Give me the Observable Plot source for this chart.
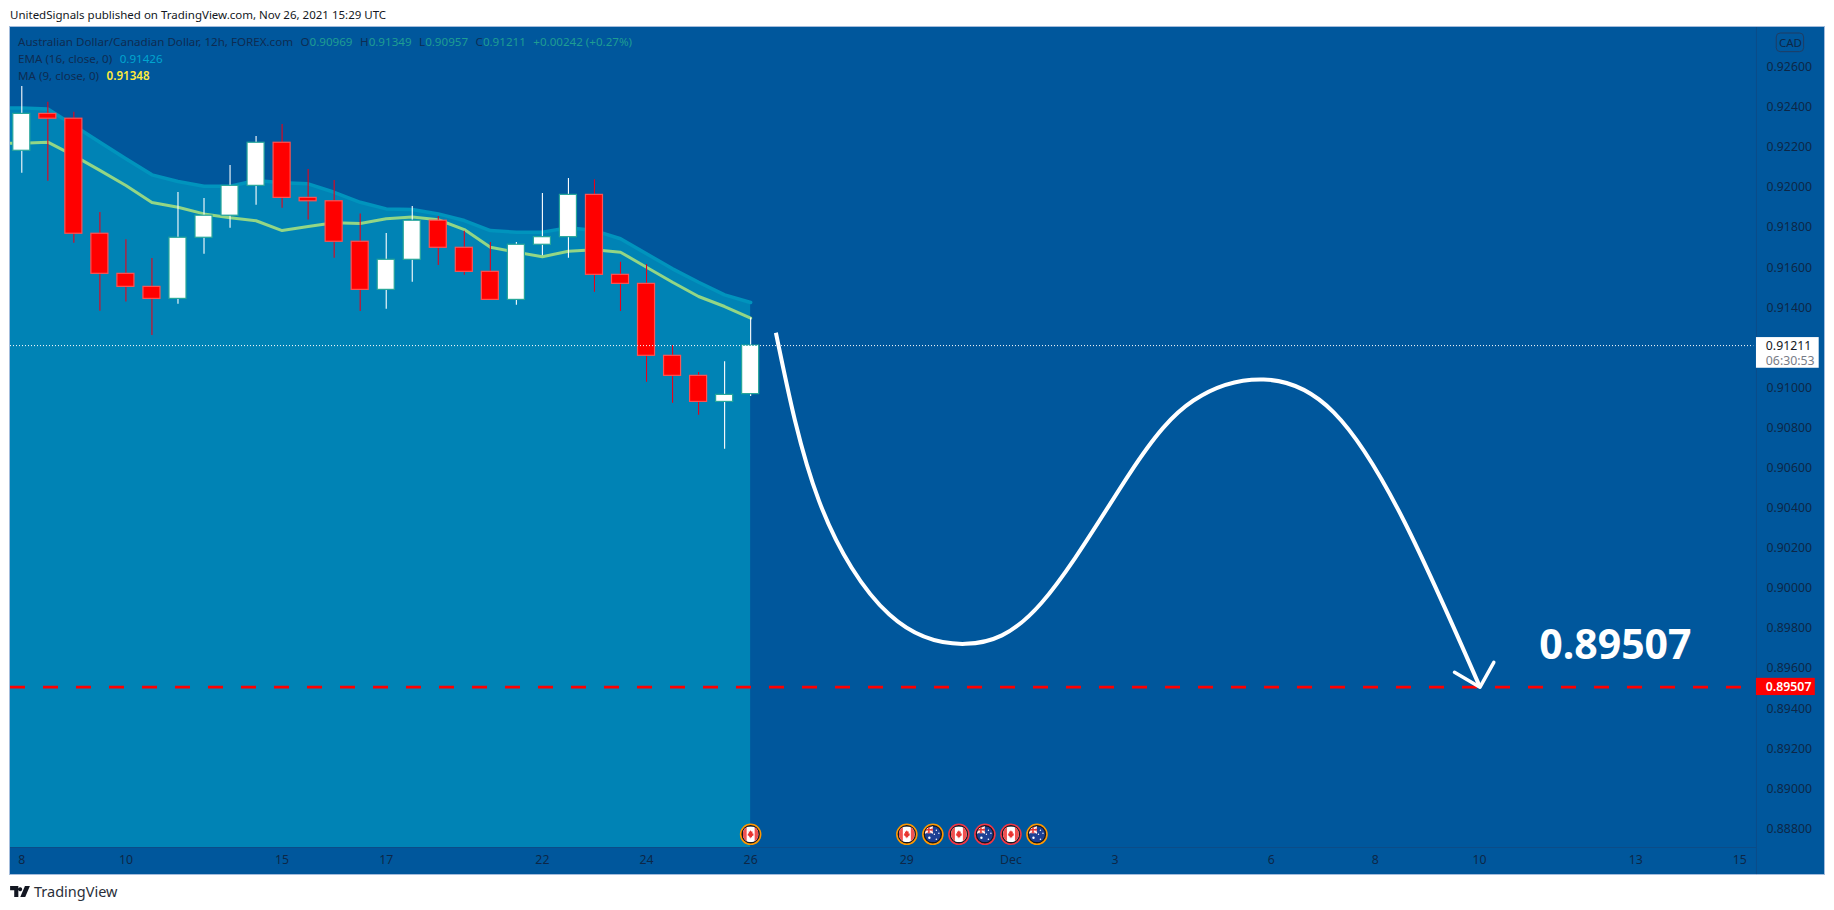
<!DOCTYPE html>
<html>
<head>
<meta charset="utf-8">
<script src="https://cdn.jsdelivr.net/npm/d3@7"></script>
<script src="https://cdn.jsdelivr.net/npm/@observablehq/plot@0.6"></script>
<style>
  html,body{margin:0;padding:0;background:#fff;width:1834px;height:910px;overflow:hidden}
  body{position:relative;font-family:"Noto Sans",sans-serif;color:#131722}
  #head{position:absolute;left:10px;top:6px;font-size:11.5px;line-height:18px;white-space:nowrap}
  #wrap{position:absolute;left:9px;top:26px;width:1814px;height:847px;border:1px solid #a3bcdc}
  #wrap svg{display:block}
  #legend{position:absolute;left:8px;top:6px;font-size:11.6px;line-height:17.2px;color:#0e2c52;white-space:nowrap}
  #legend .g{color:#1f9d92}
  #legend .gap{margin-left:4.5px}
  #foot{position:absolute;left:10px;top:881px;height:20px;display:flex;align-items:center;font-size:14.5px;color:#2a2e39}
  #foot svg{margin-right:4px}
</style>
</head>
<body>
<div id="head">UnitedSignals published on TradingView.com, Nov 26, 2021 15:29 UTC</div>
<div id="wrap">
  <div id="legend">
    <div>Australian Dollar/Canadian Dollar, 12h, FOREX.com <span class="gap">O</span><span class="g">0.90969</span> <span class="gap">H</span><span class="g">0.91349</span> <span class="gap">L</span><span class="g">0.90957</span> <span class="gap">C</span><span class="g">0.91211</span> <span class="g gap">+0.00242 (+0.27%)</span></div>
    <div>EMA (16, close, 0) <span class="gap" style="color:#00a5cf">0.91426</span></div>
    <div>MA (9, close, 0) <span class="gap" style="color:#ffeb3b;font-weight:600">0.91348</span></div>
  </div>
</div>
<div id="foot">
  <svg width="20" height="11" viewBox="0 0 36 20"><path fill="#131722" d="M0 0h15v20H7.5V7.5H0zM22 6a3.6 3.6 0 1 1 0-.01zM27 0h9l-8.5 20H18.5z"/></svg>
  <span>TradingView</span>
</div>
<script>
// Candles, oldest first (12h bars)
const candleOpen  = [.92183,.92367,.92343,.91769,.91569,.91504,.91444,.91749,.91859,.92008,.92223,.91948,.91931,.91729,.91489,.91639,.91834,.91699,.91579,.91439,.91714,.91752,.91963,.91564,.91519,.91160,.91060,.90930,.90969];
const candleClose = [.92367,.92343,.91769,.91569,.91504,.91444,.91749,.91859,.92008,.92223,.91948,.91931,.91729,.91489,.91639,.91834,.91699,.91579,.91439,.91714,.91752,.91963,.91564,.91519,.91160,.91060,.90930,.90965,.91211];
const candleHigh  = [.92504,.92425,.92375,.91875,.91739,.91645,.91975,.91945,.92109,.92254,.92314,.92090,.92035,.91868,.91770,.91905,.91855,.91782,.91725,.91725,.91970,.92045,.92038,.91627,.91615,.91211,.91077,.91131,.91349];
const candleLow   = [.92071,.92031,.91722,.91382,.91429,.91261,.91417,.91667,.91797,.91911,.91896,.91837,.91647,.91381,.91392,.91527,.91610,.91562,.91439,.91412,.91659,.91647,.91477,.91381,.91028,.90923,.90863,.90694,.90957];
// Indicators, one value per bar
const ema16 = [.92397,.92392,.92309,.92226,.92143,.92063,.92030,.92006,.92006,.92035,.92023,.92018,.91976,.91926,.91893,.91890,.91868,.91835,.91785,.91777,.91777,.91799,.91785,.91744,.91669,.91594,.91527,.91464,.91426];
const ma9   = [.92221,.92226,.92159,.92085,.92010,.91925,.91901,.91868,.91849,.91834,.91785,.91805,.91824,.91820,.91844,.91852,.91839,.91790,.91702,.91677,.91654,.91682,.91689,.91677,.91602,.91527,.91456,.91406,.91348];
// Hand drawn forecast curve: bar index and price
const sketchBar   = [28.97,30.63,33.33,36.25,39.17,42.54,45.01,47.71,50.40,53.10,56.02];
const sketchPrice = [.91275,.90435,.89869,.89723,.89927,.90569,.90937,.91042,.90878,.90336,.89507];
const arrowBar    = [55.04,56.02,56.55];
const arrowPrice  = [.89581,.89507,.89631];
// Levels
const lastPrice = .91211;
const targetPrice = .89507;
// Axes
const priceTicks = [.888,.890,.892,.894,.896,.898,.900,.902,.904,.906,.908,.910,.914,.916,.918,.920,.922,.924,.926];
const barTicks  = [0,4,10,14,20,24,28,34,38,42,48,52,56,62,66];
const barLabels = ["8","10","15","17","22","24","26","29","Dec","3","6","8","10","13","15"];
// Economic calendar markers
const eventBars  = [28,34,35,36,37,38,39];
const eventFlag  = ["CA","CA","AU","CA","AU","CA","AU"];
const eventRing  = ["#ff9800","#ff9800","#ff9800","#f23645","#f23645","#f23645","#ff9800"];

const X0=-0.434, X1=66.68, Y0=.88707, Y1=.92798, AXIS_X=66.64, PANE_BOTTOM=Y0, EVENT_Y=.88773, SVG_BOTTOM=.88572;
const bars = candleOpen.map((o,i)=>({i,o,c:candleClose[i],h:candleHigh[i],l:candleLow[i],up:candleClose[i]>=o}));
const lineData = a => [{i:-1,v:a[0]},...a.map((v,i)=>({i,v}))];
const sketch = sketchBar.map((x,k)=>({x,y:sketchPrice[k]}));
const arrow = arrowBar.map((x,k)=>({x,y:arrowPrice[k]}));
const events = eventBars.map((i,k)=>({i,flag:eventFlag[k],ring:eventRing[k]}));

const flagCA = "data:image/svg+xml;utf8,"+encodeURIComponent('<svg xmlns="http://www.w3.org/2000/svg" viewBox="0 0 16 16"><rect width="16" height="16" fill="#fff"/><rect width="4" height="16" fill="#f0514f"/><rect x="12" width="4" height="16" fill="#f0514f"/><path fill="#e8342f" d="M8 4l1 1.6 1-.3-.4 2 1.2-.3-.3 1.1.8.6-2 1.3.2 1H8.3V12h-.6v-1H6.5l.2-1-2-1.3.8-.6-.3-1.1 1.2.3-.4-2 1 .3z"/></svg>');
const flagAU = "data:image/svg+xml;utf8,"+encodeURIComponent('<svg xmlns="http://www.w3.org/2000/svg" viewBox="0 0 16 16"><rect width="16" height="16" fill="#1c3f94"/><rect width="8" height="7" fill="#f5a5a5"/><path d="M0 0l8 7M8 0L0 7" stroke="#fff" stroke-width="1.2"/><path d="M4 0v7M0 3.5h8" stroke="#e8342f" stroke-width="1.4"/><g fill="#fff"><circle cx="4.5" cy="11.5" r="1.2"/><circle cx="11.5" cy="4" r=".7"/><circle cx="14" cy="7" r=".7"/><circle cx="9.5" cy="8" r=".7"/><circle cx="11.5" cy="13" r=".8"/></g></svg>');

const font = '"Noto Sans",sans-serif';
const axisInk = "#0d2747";
const chart = Plot.plot({
  width:1814, height:847,
  marginLeft:0, marginRight:67, marginTop:0, marginBottom:27,
  style:{background:"#00579c", fontFamily:font, overflow:"visible"},
  x:{domain:[X0,X1], range:[0,1747], axis:null},
  y:{domain:[Y0,Y1], range:[820,0], axis:null},
  marks:[
    Plot.areaY(lineData(ema16),{x:"i",y1:PANE_BOTTOM,y2:"v",fill:"#0083b5",curve:"linear",clip:true}),
    Plot.line(lineData(ema16),{x:"i",y:"v",stroke:"#0094bd",strokeWidth:3.5,clip:true}),
    Plot.line(lineData(ma9),{x:"i",y:"v",stroke:"#93d685",strokeWidth:3,clip:true}),
    Plot.ruleX([AXIS_X],{y1:SVG_BOTTOM,y2:Y1,stroke:"#0b4c88",strokeWidth:1}),
    Plot.ruleY([Y0],{x1:X0,x2:AXIS_X,stroke:"#0b4c88",strokeWidth:1}),
    Plot.ruleX(bars,{x:"i",y1:"l",y2:"h",stroke:d=>d.up?"#ffffff":"#e8001a",strokeWidth:1.1}),
    Plot.rect(bars,{x1:d=>d.i-.327,x2:d=>d.i+.327,y1:"o",y2:"c",fill:d=>d.up?"#ffffff":"#ff0000",stroke:d=>d.up?"#26a69a":"#ff5252",strokeWidth:1.2}),
    Plot.ruleY([lastPrice],{x1:X0,x2:AXIS_X-.1,stroke:"#ffffff",strokeWidth:1,strokeDasharray:"1,2"}),
    Plot.ruleY([targetPrice],{x1:X0,x2:AXIS_X,stroke:"#ff0000",strokeWidth:2.8,strokeDasharray:"15,18"}),
    Plot.line(sketch,{x:"x",y:"y",curve:"natural",stroke:"#ffffff",strokeWidth:4,strokeLinecap:"butt"}),
    Plot.line(arrow,{x:"x",y:"y",stroke:"#ffffff",strokeWidth:3.5,strokeLinejoin:"round"}),
    Plot.text(["0.89507"],{x:61.22,y:.89714,fontSize:41,fontWeight:700,fill:"#ffffff",letterSpacing:1}),
    Plot.dot(events,{x:"i",y:()=>EVENT_Y,r:10,fill:"#131722",stroke:"ring",strokeWidth:1.6}),
    Plot.image(events,{x:"i",y:()=>EVENT_Y,width:16,height:16,r:8,src:d=>d.flag==="CA"?flagCA:flagAU}),
    Plot.axisY(priceTicks,{anchor:"right",tickSize:0,tickPadding:9,tickFormat:d3.format(".5f"),fontSize:12.3,fill:axisInk,label:null}),
    Plot.axisX(barTicks,{anchor:"bottom",tickSize:0,tickPadding:8,tickFormat:(d)=>barLabels[barTicks.indexOf(d)],fontSize:12.3,fill:axisInk,label:null}),
    Plot.rect([0],{x1:AXIS_X,x2:69.05,y1:.91251,y2:.91098,fill:"#ffffff"}),
    Plot.text(["0.91211"],{x:67.0,y:lastPrice,textAnchor:"start",fontSize:12.3,fill:"#131722"}),
    Plot.text(["06:30:53"],{x:67.0,y:.91136,textAnchor:"start",fontSize:12.3,fill:"#777b86"}),
    Plot.rect([0],{x1:AXIS_X,x2:68.9,y1:.89551,y2:.89465,fill:"#ff0000"}),
    Plot.text(["0.89507"],{x:67.0,y:targetPrice,textAnchor:"start",fontSize:12.3,fontWeight:600,fill:"#ffffff"}),
    Plot.rect([0],{x1:67.42,x2:68.47,y1:.92768,y2:.92675,fill:"none",stroke:"#1f3d63",strokeWidth:1,rx:4}),
    Plot.text(["CAD"],{x:67.945,y:.92720,fontSize:11.5,fill:axisInk})
  ]
});
document.getElementById("wrap").prepend(chart);
</script>
</body>
</html>
